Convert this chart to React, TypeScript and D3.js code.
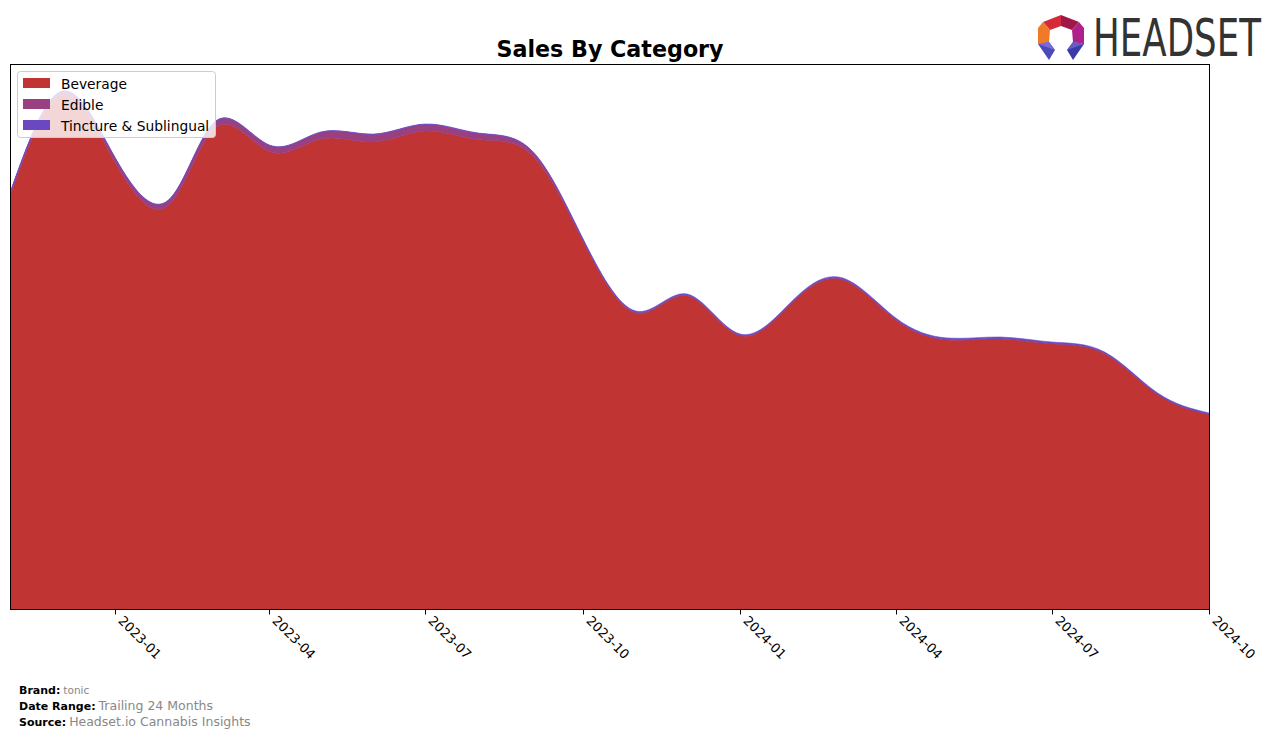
import React from "react";
import * as d3 from "d3";

const months = [
  "2022-11", "2022-12", "2023-01", "2023-02", "2023-03", "2023-04",
  "2023-05", "2023-06", "2023-07", "2023-08", "2023-09", "2023-10",
  "2023-11", "2023-12", "2024-01", "2024-02", "2024-03", "2024-04",
  "2024-05", "2024-06", "2024-07", "2024-08", "2024-09", "2024-10",
];
const beverage = [
  415.4, 513.4, 446, 403.5, 482, 457.5, 470, 467, 478, 469.5, 454.5, 368.7,
  296.2, 313.2, 273.4, 307.4, 329.2, 289.3, 269.1, 270.1, 265.2, 255.3, 214.4, 194.4,
];
const edible = [
  3, 4, 4.5, 5, 6, 6, 6.5, 7.5, 6.5, 6, 4, 1.5,
  0.8, 0.8, 0.6, 0.6, 0.6, 0.5, 0.5, 0.5, 0.5, 0.5, 0.4, 0.4,
];
const tincture = [
  0.6, 0.6, 0.5, 0.5, 0.5, 0.5, 0.5, 0.5, 0.5, 0.5, 0.5, 0.8,
  1, 1, 1, 1, 1.2, 1.2, 1.4, 1.4, 1.3, 1.2, 1.2, 1.2,
];
const seriesNames = ["Beverage", "Edible", "Tincture & Sublingual"];
const seriesColors = ["#c13434", "#9a4080", "#6a48c2"];
const tickLabels = ["2023-01", "2023-04", "2023-07", "2023-10", "2024-01", "2024-04", "2024-07", "2024-10"];

const W = 1276;
const H = 738;
const left = 10.5, right = 1209.5, top = 64.5, bottom = 609.5;

export default function App() {
  const parse = d3.timeParse("%Y-%m");
  const rows = months.map((m, i) => ({
    date: parse(m) as Date,
    Beverage: beverage[i],
    Edible: edible[i],
    "Tincture & Sublingual": tincture[i],
  }));
  const x = d3.scaleTime()
    .domain([rows[0].date, rows[rows.length - 1].date])
    .range([11, 1209]);
  const y = d3.scaleLinear().domain([0, 545]).range([609, 64]);
  const stack = d3.stack<any>().keys(seriesNames);
  const layers = stack(rows);
  const area = d3.area<any>()
    .x((d) => x(d.data.date))
    .y0((d) => y(d[0]))
    .y1((d) => y(d[1]))
    .curve(d3.curveNatural);

  const font = "DejaVu Sans, sans-serif";

  return (
    <div style={{ position: "absolute", left: 0, top: 0, width: W, height: H, background: "#fff" }}>
      <svg width={W} height={H} style={{ display: "block" }}>
        <defs>
          <clipPath id="plotclip">
            <rect x={left} y={top} width={right - left} height={bottom - top} />
          </clipPath>
        </defs>
        <rect x={0} y={0} width={W} height={H} fill="#fff" />
        <g clipPath="url(#plotclip)">
          {layers.map((l, i) => (
            <path key={seriesNames[i]} d={area(l as any) || ""} fill={seriesColors[i]} stroke={seriesColors[i]} strokeWidth={0.6} />
          ))}
        </g>
        <rect x={left} y={top} width={right - left} height={bottom - top} fill="none" stroke="#000" strokeWidth={1} />
        {tickLabels.map((t) => {
          const px = Math.round(x(parse(t) as Date)) + 0.5;
          return (
            <g key={t}>
              <line x1={px} x2={px} y1={bottom} y2={bottom + 5} stroke="#000" strokeWidth={1} />
              <text
                transform={`translate(${px + 2},${bottom + 12}) rotate(45)`}
                fontFamily={font}
                fontSize={13}
                fill="#000"
              >
                {t}
              </text>
            </g>
          );
        })}
        <text x={610} y={57} textAnchor="middle" fontFamily={font} fontWeight="bold" fontSize={22.2}>
          Sales By Category
        </text>
        <g>
          <rect x={17.5} y={71.5} width={198} height={66} rx={3} fill="#fff" fillOpacity={0.8} stroke="#cccccc" />
          {seriesNames.map((n, i) => (
            <g key={n}>
              <rect x={23} y={78 + i * 21} width={27} height={10} fill={seriesColors[i]} />
              <text x={61} y={88.5 + i * 21} fontFamily={font} fontSize={13.8} fill="#000">
                {n}
              </text>
            </g>
          ))}
        </g>
        <g fontFamily={font}>
          <text x={19} y={694} fontSize={11}>
            <tspan fontWeight="bold" fill="#000">Brand:</tspan>
            <tspan fill="#888" fontSize={10.5} dx={3}>tonic</tspan>
          </text>
          <text x={19} y={710} fontSize={11}>
            <tspan fontWeight="bold" fill="#000">Date Range:</tspan>
            <tspan fill="#888" fontSize={12.5} dx={3}>Trailing 24 Months</tspan>
          </text>
          <text x={19} y={726} fontSize={11}>
            <tspan fontWeight="bold" fill="#000">Source:</tspan>
            <tspan fill="#888" fontSize={12.5} dx={3}>Headset.io Cannabis Insights</tspan>
          </text>
        </g>
        <g>
          <polygon points="1043,22 1061,15 1061,26 1050,30" fill="#d42a3a" />
          <polygon points="1061,15 1079,22 1072,30 1061,26" fill="#a01848" />
          <polygon points="1043,22 1050,30 1049,42 1038,44 1038,28" fill="#f07a2a" />
          <polygon points="1079,22 1084,28 1084,44 1073,42 1072,30" fill="#b0208a" />
          <polygon points="1038,44 1049,42 1055,50 1049,60" fill="#4a4ab8" />
          <polygon points="1084,44 1073,42 1067,50 1073,60" fill="#3a3aa8" />
          <polygon points="1038,44 1049,42 1055,50" fill="#7a6ad8" />
          <polygon points="1084,44 1073,42 1067,50" fill="#6a5ac8" />
          <text transform="translate(1093,56) scale(0.99,1.42)" fontFamily="DejaVu Sans, sans-serif" fontSize={36} fill="#333">
            HEADSET
          </text>
        </g>
      </svg>
    </div>
  );
}
